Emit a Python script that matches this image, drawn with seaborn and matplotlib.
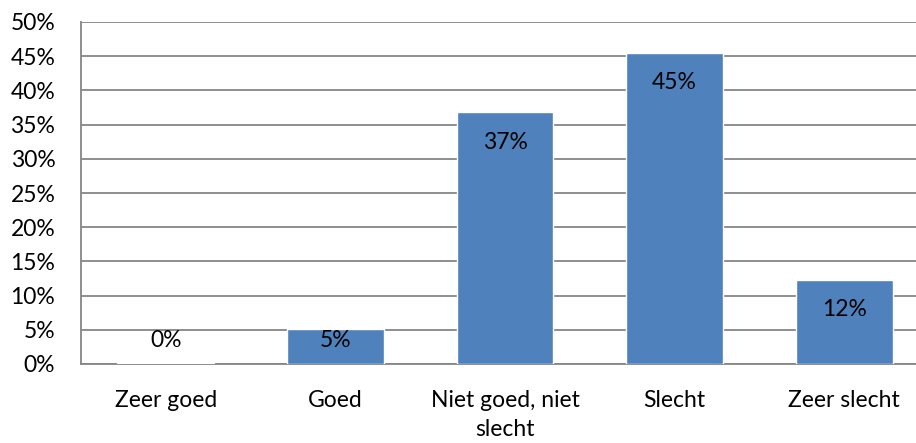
import matplotlib
matplotlib.use("Agg")
import matplotlib.pyplot as plt
import seaborn as sns
import pandas as pd
from matplotlib.ticker import FuncFormatter, MultipleLocator

categories = ["Zeer goed", "Goed", "Niet goed, niet\nslecht", "Slecht", "Zeer slecht"]
values = [0.2, 5.1, 36.8, 45.5, 12.3]
labels = ["0%", "5%", "37%", "45%", "12%"]

sns.set_theme(style="white")
plt.rcParams["font.family"] = ["Lato", "DejaVu Sans"]

df = pd.DataFrame({"cat": categories, "val": values})

fig = plt.figure(figsize=(9.16, 4.43), dpi=100)
ax = fig.add_axes([81 / 916, 1 - 364 / 443, (929 - 81) / 916, (364 - 22) / 443])

sns.barplot(data=df, x="cat", y="val", color="#4F81BD", saturation=1,
            width=0.57, ax=ax, zorder=3)

ax.set_ylim(0, 50)
ax.yaxis.set_major_locator(MultipleLocator(5))
ax.yaxis.set_major_formatter(FuncFormatter(lambda v, p: f"{v:.0f}%"))
ax.grid(axis="y", color="#868686", linewidth=1.3, zorder=0)
ax.set_axisbelow(True)
for s in ["top", "right"]:
    ax.spines[s].set_visible(False)
for s in ["left", "bottom"]:
    ax.spines[s].set_color("#868686")
    ax.spines[s].set_linewidth(1.3)
ax.set_xlabel("")
ax.set_ylabel("")
fs = 16.5
ax.tick_params(axis="y", labelsize=fs, length=0, pad=18.5, colors="black")
ax.tick_params(axis="x", labelsize=fs, length=0, pad=19, colors="black")
for t in ax.get_xticklabels():
    t.set_linespacing(1.45)
    t.set_verticalalignment("top")

for i, (v, lab) in enumerate(zip(values, labels)):
    y = max(v - 4.4, 3.5)
    ax.text(i, y, lab, ha="center", va="center", fontsize=fs, color="black", zorder=5)

fig.savefig("out.png", dpi=100)
